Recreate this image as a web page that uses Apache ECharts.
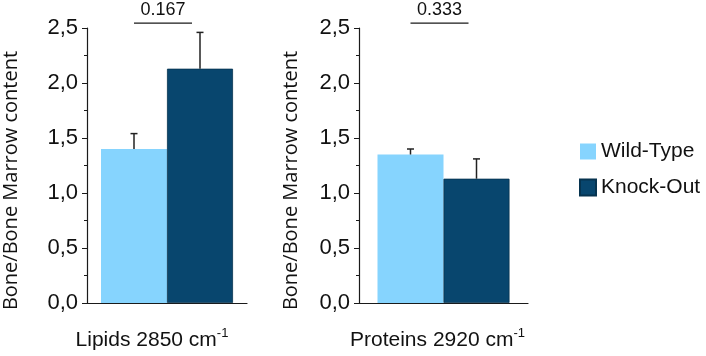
<!DOCTYPE html>
<html>
<head>
<meta charset="utf-8">
<script src="https://cdn.jsdelivr.net/npm/echarts@6/dist/echarts.min.js"></script>
<style>
  html, body { margin: 0; padding: 0; background: #fff; }
  #chart { width: 706px; height: 356px; }
</style>
</head>
<body>
<div id="chart"></div>
<script>
var panels = ['Lipids 2850 cm', 'Proteins 2920 cm'];
var wtMean = [1.40, 1.35];
var wtErr = [0.14, 0.05];
var koMean = [2.13, 1.13];
var koErr = [0.33, 0.18];
var pValues = ['0.167', '0.333'];

var WT_COLOR = '#86d4fe';
var KO_COLOR = '#08466e';
var FONT = 'Liberation Sans, Arial, sans-serif';
var BAR_W = 66;

var grids = [
    { left: 78, top: 28, width: 169, height: 279 },
    { left: 359, top: 28, width: 169, height: 279 }
];
var yNameGaps = [66, 58];
var xNameShift = [30, 12];

function errorItem(offset) {
    return function(params, api) {
        var mean = api.value(1), err = api.value(2);
        var base = api.coord([0, mean]);
        var top = api.coord([0, mean + err]);
        var x = base[0] + offset;
        var style = { stroke: '#222', lineWidth: 1.5 };
        return {
            type: 'group',
            children: [
                { type: 'line', shape: { x1: x, y1: base[1], x2: x, y2: top[1] }, style: style },
                { type: 'line', shape: { x1: x - 3.5, y1: top[1], x2: x + 3.5, y2: top[1] }, style: style }
            ]
        };
    };
}

var xAxes = [], yAxes = [], series = [];
panels.forEach(function(name, i) {
    xAxes.push({
        type: 'category',
        gridIndex: i,
        data: [name],
        axisLine: { lineStyle: { color: '#1a1a1a', width: 1.2 } },
        axisTick: { alignWithLabel: true, length: 5, lineStyle: { color: '#1a1a1a' } },
        axisLabel: { show: false },
        name: name + '{sup|-1}',
        nameLocation: 'middle',
        nameGap: 24,
        nameTextStyle: {
            color: '#111', fontSize: 21, fontFamily: FONT, padding: [0, xNameShift[i], 0, 0],
            rich: { sup: { fontSize: 13, fontFamily: FONT, color: '#111', padding: [0, 0, 14, 0] } }
        }
    });
    yAxes.push({
        type: 'value',
        gridIndex: i,
        min: 0,
        max: 2.5,
        interval: 0.5,
        splitLine: { show: false },
        axisLine: { show: true, lineStyle: { color: '#1a1a1a', width: 1.2 } },
        axisTick: { show: true, length: 5, lineStyle: { color: '#1a1a1a' } },
        minorTick: { show: true, splitNumber: 2, length: 3, lineStyle: { color: '#1a1a1a' } },
        axisLabel: {
            color: '#111', fontSize: 22, fontFamily: FONT, margin: 9,
            formatter: function(v) { return v.toFixed(1).replace('.', ','); }
        },
        name: 'Bone/Bone Marrow content',
        nameLocation: 'middle',
        nameGap: yNameGaps[i],
        nameTextStyle: { color: '#111', fontSize: 20, fontFamily: 'Open Sans, sans-serif', padding: [0, 30, 0, 0] }
    });
    series.push({
        name: 'Wild-Type', type: 'bar', xAxisIndex: i, yAxisIndex: i,
        data: [wtMean[i]], barWidth: BAR_W, barGap: '0%',
        itemStyle: { color: WT_COLOR }
    });
    series.push({
        name: 'Knock-Out', type: 'bar', xAxisIndex: i, yAxisIndex: i,
        data: [koMean[i]], barWidth: BAR_W, barGap: '0%',
        itemStyle: { color: KO_COLOR, borderColor: '#06334f', borderWidth: 0.8 }
    });
    series.push({
        type: 'custom', xAxisIndex: i, yAxisIndex: i, z: 5, clip: false,
        renderItem: errorItem(-BAR_W / 2),
        data: [[0, wtMean[i], wtErr[i]]]
    });
    series.push({
        type: 'custom', xAxisIndex: i, yAxisIndex: i, z: 5, clip: false,
        renderItem: errorItem(BAR_W / 2),
        data: [[0, koMean[i], koErr[i]]]
    });
});

var myChart = echarts.init(document.getElementById('chart'));
myChart.setOption({
    animation: false,
    grid: grids,
    xAxis: xAxes,
    yAxis: yAxes,
    legend: {
        data: ['Wild-Type', 'Knock-Out'],
        orient: 'vertical',
        left: 579,
        top: 141,
        padding: 0,
        itemWidth: 16,
        itemHeight: 16,
        itemGap: 15,
        icon: 'rect',
        textStyle: { color: '#111', fontSize: 21, fontFamily: FONT, padding: [0, 0, 0, 0] }
    },
    series: series
});

// p-value brackets above each panel
var graphics = [];
pValues.forEach(function(p, i) {
    var c = myChart.convertToPixel({ xAxisIndex: i, yAxisIndex: i }, [0, 2.545]);
    var x = c[0] - 4, y = c[1];
    graphics.push({
        type: 'line',
        shape: { x1: x - 29, y1: y, x2: x + 29, y2: y },
        style: { stroke: '#1a1a1a', lineWidth: 1.2 }
    });
    graphics.push({
        type: 'text',
        x: x, y: y - 4,
        style: { text: p, fill: '#111', fontSize: 18, fontFamily: FONT, align: 'center', verticalAlign: 'bottom' }
    });
});
myChart.setOption({ graphic: graphics });
</script>
</body>
</html>
